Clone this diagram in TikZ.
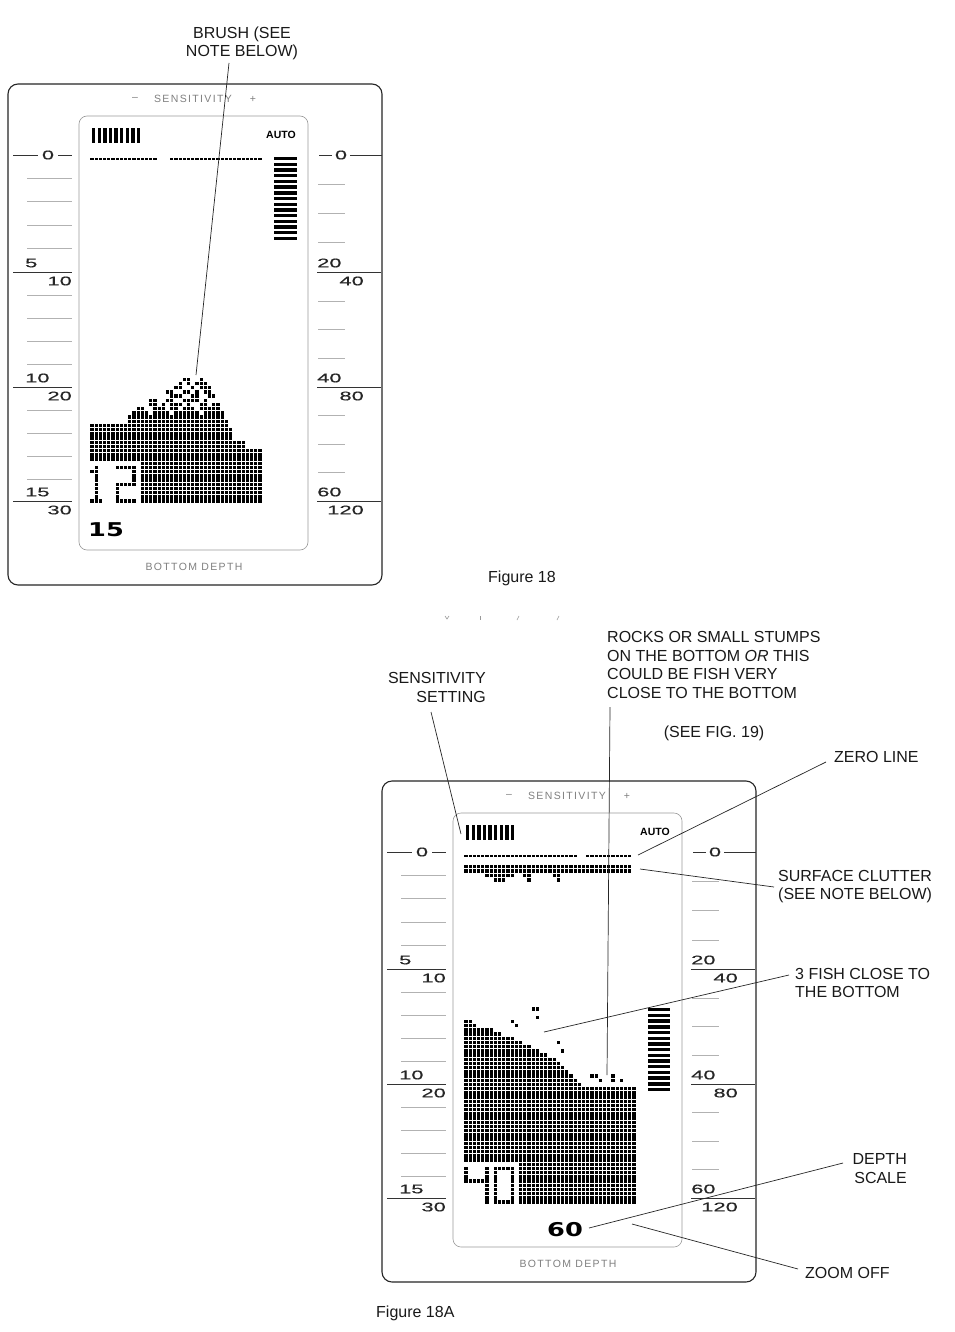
\documentclass[tikz,border=0pt]{standalone}
\usepackage{fontspec}
\setmainfont{Liberation Sans}
\newfontfamily\lcdfont[FakeStretch=1.75,FakeBold=0.5]{Liberation Sans}
\newfontfamily\lcdbig[FakeStretch=1.35]{DejaVu Sans}
\newfontfamily\spacedfont[LetterSpace=13]{Liberation Sans}

\newcommand\gridx{92}
\newcommand\dotat[2]{\fill ({\gridx+4.2*(#1)-1.65},{\gridy+4.2*(#2)-1.65}) rectangle ++(3.3,3.3);}
\newcommand\dotrect[4]{\foreach \cc in {#1,...,#2}{\foreach \rr in {#3,...,#4}{\dotat{\cc}{\rr}}}}
\newcommand\dotrow[2]{\foreach \cc in {#2}{\dotat{\cc}{#1}}}

\newcommand\panelframe{%
  \draw[frame] (8,84) rectangle (382,585);
  \draw[lcdedge] (79,116) rectangle (308,550);
  \node[faint] (sensdash) at (135,99) {\textendash};
  \node[faint] (senstxt) at (193,99) {SENSITIVITY};
  \node[faint] (sensplus) at (253,99) {+};
  \node[faint] (bdtxt) at (194,567) {BOTTOM DEPTH};
  \node[autotxt] (autolbl) at (281,135) {AUTO};
  \foreach \i in {0,...,8} \fill ({92+5.6*\i},128) rectangle ++(3.4,15);
  % left scale
  \draw[major] (13,155) -- (38,155);
  \draw[major] (58,155) -- (72,155);
  \node[scl] (lzero) at (48,155) {0};
  \foreach \y in {178.3,201.6,224.9,248.2,295,318,341,364,410,433,456,479}
    \draw[minor] (27,\y) -- (72,\y);
  \foreach \y/\a/\b in {272/5/10,387/10/20,501/15/30}{
    \draw[major] (13,\y) -- (72,\y);
    \node[scl,anchor=west] (la\a) at (25,{\y-9}) {\a};
    \node[scl,anchor=east] (lb\b) at (72,{\y+9}) {\b};
  }
  % right scale
  \draw[major] (319,155) -- (332,155);
  \draw[major] (350,155) -- (382,155);
  \node[scl] (rzero) at (341,155) {0};
  \foreach \y in {184.3,213.5,242.8,300.8,329.5,358.3,415.5,444,472.5}
    \draw[minor] (318,\y) -- (345,\y);
  \foreach \y/\a/\b in {272/20/40,387/40/80,501/60/120}{
    \draw[major] (317,\y) -- (381,\y);
    \node[scl,anchor=west] (ra\a) at (317,{\y-9}) {\a};
    \node[scl,anchor=east] (rb\b) at (364,{\y+9}) {\b};
  }
}

\begin{document}
\begin{tikzpicture}[x=1pt,y=-1pt,
  frame/.style={line width=1.1pt, rounded corners=10pt, draw=black!85},
  lcdedge/.style={line width=0.6pt, rounded corners=8pt, draw=black!40},
  major/.style={line width=0.9pt, draw=black!80},
  minor/.style={line width=0.6pt, draw=black!30},
  scl/.style={font=\lcdfont\fontsize{12.5}{13}\selectfont, inner sep=0pt, text=black!85},
  bigdig/.style={font=\lcdbig\bfseries\fontsize{19}{20}\selectfont, inner sep=0pt},
  faint/.style={font=\spacedfont\fontsize{10.5}{12}\selectfont, text=black!50, inner sep=0pt},
  autotxt/.style={font=\bfseries\fontsize{10.5}{12}\selectfont, inner sep=0pt},
  lbl/.style={font=\fontsize{16}{18.7}\selectfont, inner sep=0pt, text=black!90},
  ptr/.style={line width=0.7pt, draw=black!85},
  stray/.style={line width=0.6pt, draw=black!40},
]
\useasboundingbox (0,0) rectangle (954,1332);
\fill[white] (0,0) rectangle (954,1332);

% ================= Figure 18 =================
\begin{scope}[name prefix=t-]
  \panelframe
  \def\gridy{425.5}
  % zero line
  \foreach \cc in {0,...,15} \fill ({\gridx+4.2*\cc-1.6},157.6) rectangle ++(3.2,2.8);
  \foreach \cc in {19,...,40} \fill ({\gridx+4.2*\cc-1.6},157.6) rectangle ++(3.2,2.8);
  % depth bar
  \foreach \i in {0,...,14} \fill (274,{157+5.7*\i}) rectangle ++(23,3.4);
  % bottom block
  \dotrect{0}{32}{0}{8}
  \dotrect{33}{33}{1}{8}
  \dotrect{34}{36}{4}{8}
  \dotrect{37}{40}{6}{8}
  \dotrect{12}{40}{9}{18}
  % brush
  \dotrow{-11}{22,23,26}
  \dotrow{-10}{21,23,25,26,27}
  \dotrow{-9}{20,21,24,26,27,28}
  \dotrow{-8}{18,19,22,23,25,27,28}
  \dotrow{-7}{19,20,21,24,25,28,29}
  \dotrow{-6}{14,15,18,19,22,23,24,25,27}
  \dotrow{-5}{14,15,17,19,20,21,23,26,27,29,30}
  \dotrow{-4}{11,12,15,16,17,19,20,22,23,24,26,27,28,29,30}
  \dotrow{-3}{10,11,12,13,15,16,17,18,20,21,22,23,24,25,27,28,29,30,31}
  \dotrect{9}{31}{-2}{-2}
  \dotrect{9}{32}{-1}{-1}
  % digits 12
  \dotrect{1}{1}{10}{18}
  \dotat{0}{11}\dotat{0}{18}\dotat{2}{18}
  \dotrect{6}{10}{10}{10}
  \dotrect{10}{10}{11}{14}
  \dotrect{6}{9}{14}{14}
  \dotrect{6}{6}{15}{18}
  \dotrect{7}{10}{18}{18}
  \node[bigdig] (bd) at (106,530) {15};
\end{scope}

% ================= Figure 18A =================
\begin{scope}[shift={(374,697)}, name prefix=b-]
  \panelframe
  \def\gridy{324.5}
  % zero line
  \foreach \cc in {0,...,26} \fill ({\gridx+4.2*\cc-1.6},157.6) rectangle ++(3.2,2.8);
  \foreach \cc in {29,...,39} \fill ({\gridx+4.2*\cc-1.6},157.6) rectangle ++(3.2,2.8);
  % surface clutter
  \foreach \cc in {0,...,39}{
    \fill ({\gridx+4.2*\cc-1.65},167.9) rectangle ++(3.3,3.3);
    \fill ({\gridx+4.2*\cc-1.65},172.4) rectangle ++(3.3,3.3);
  }
  \foreach \cc in {5,6,7,8,9,10,11,14,15,21,22} \fill ({\gridx+4.2*\cc-1.65},176.9) rectangle ++(3.3,3.3);
  \foreach \cc in {7,8,9,15,22} \fill ({\gridx+4.2*\cc-1.65},181.4) rectangle ++(3.3,3.3);
  % depth bar
  \foreach \i in {0,...,14} \fill (274,{311+5.7*\i}) rectangle ++(22,3.4);
  % bottom slope
  \foreach \rr/\e in {0/1,1/2,2/6,3/8,4/11,5/13,6/15,7/17,8/19,9/21,10/22,11/23,12/24,13/25,14/26,15/27}{
    \foreach \cc in {0,...,\e}{\dotat{\cc}{\rr}}
  }
  \dotrect{0}{40}{16}{33}
  \dotrect{13}{40}{34}{43}
  % rocks
  \dotrow{13}{30,31,35}
  \dotrow{14}{32,35,37}
  % three fish
  \dotat{16}{-3}\dotat{17}{-3}\dotat{17}{-1}
  \dotat{11}{0}\dotat{12}{1}
  \dotat{22}{5}\dotat{23}{7}
  % digits 40
  \dotrect{0}{0}{35}{38}
  \dotrect{1}{4}{38}{38}
  \dotrect{5}{5}{35}{43}
  \dotrect{7}{11}{35}{35}
  \dotrect{7}{11}{43}{43}
  \dotrect{7}{7}{36}{42}
  \dotrect{11}{11}{36}{42}
  \node[bigdig] (bd) at (191,533) {60};
\end{scope}

% ================= labels =================
\node[lbl,anchor=base] (brush1) at (242,39) {BRUSH (SEE};
\node[lbl,anchor=base] (brush2) at (242,57) {NOTE BELOW)};
\node[lbl,anchor=base] (fig18) at (522,582) {Figure 18};

\node[lbl,anchor=base east] (sens1) at (486,683) {SENSITIVITY};
\node[lbl,anchor=base east] (sens2) at (486,702) {SETTING};
\node[lbl,anchor=base west] (rock1) at (607,642) {ROCKS OR SMALL STUMPS};
\node[lbl,anchor=base west] (rock2) at (607,661) {ON THE BOTTOM \textit{OR} THIS};
\node[lbl,anchor=base west] (rock3) at (607,679) {COULD BE FISH VERY};
\node[lbl,anchor=base west] (rock4) at (607,698) {CLOSE TO THE BOTTOM};
\node[lbl,anchor=base] (seefig) at (714,737) {(SEE FIG. 19)};
\node[lbl,anchor=base west] (zerolbl) at (834,762) {ZERO LINE};
\node[lbl,anchor=base west] (clut1) at (778,881) {SURFACE CLUTTER};
\node[lbl,anchor=base west] (clut2) at (778,899) {(SEE NOTE BELOW)};
\node[lbl,anchor=base west] (fish1) at (795,979) {3 FISH CLOSE TO};
\node[lbl,anchor=base west] (fish2) at (795,997) {THE BOTTOM};
\node[lbl,anchor=base east] (dscale1) at (907,1164) {DEPTH};
\node[lbl,anchor=base east] (dscale2) at (907,1183) {SCALE};
\node[lbl,anchor=base west] (zoomlbl) at (805,1278) {ZOOM OFF};
\node[lbl,anchor=base west] (fig18a) at (376,1317) {Figure 18A};

% ================= pointers =================
\coordinate (brushS) at (229,63);   \coordinate (brushE) at (196,375);
\coordinate (sensS) at (431,712);   \coordinate (sensE) at (461,834);
\coordinate (rockS) at (610,707);   \coordinate (rockE) at (607,1075);
\coordinate (zeroS) at (826,762);   \coordinate (zeroE) at (638,855);
\coordinate (clutS) at (640,869);   \coordinate (clutE) at (774,887);
\coordinate (fishS) at (544,1032);  \coordinate (fishE) at (789,975);
\coordinate (scaleS) at (843,1163); \coordinate (scaleE) at (589,1228);
\coordinate (zoomS) at (632,1224);  \coordinate (zoomE) at (798,1269);
\draw[ptr] (brushS) -- (brushE);
\draw[ptr] (sensS) -- (sensE);
\draw[ptr] (rockS) -- (rockE);
\draw[ptr] (zeroS) -- (zeroE);
\draw[ptr] (clutS) -- (clutE);
\draw[ptr] (fishS) -- (fishE);
\draw[ptr] (scaleS) -- (scaleE);
\draw[ptr] (zoomS) -- (zoomE);

% stray marks
\draw[stray] (445,616) -- (447,619) -- (449,616);
\draw[stray] (480,616) -- (480,620);
\draw[stray] (517,620) -- (519,616);
\draw[stray] (557,620) -- (559,616);
\end{tikzpicture}
\end{document}
